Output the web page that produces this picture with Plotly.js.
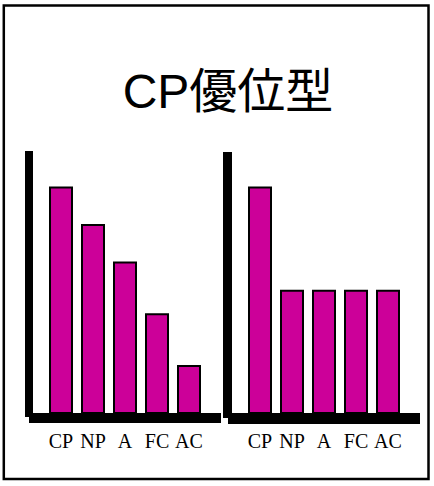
<!DOCTYPE html>
<html>
<head>
<meta charset="utf-8">
<script src="https://cdn.plot.ly/plotly-3.0.1.min.js"></script>
<style>
  html, body { margin: 0; padding: 0; background: #fff; }
  #plot { width: 434px; height: 486px; }
</style>
</head>
<body>
<div id="plot"></div>
<script>
var categories = ["CP", "NP", "A", "FC", "AC"];
var leftValues = [4.8, 4.0, 3.2, 2.1, 1.0];
var rightValues = [4.8, 2.6, 2.6, 2.6, 2.6];
var chartTitle = "CP優位型";

var W = 434, H = 486;
// pixel helpers for paper coords
function px(x) { return x / W; }
function py(y) { return 1 - y / H; }

var barColor = "#CC0099";

var trace1 = {
    x: categories,
    y: leftValues,
    type: "bar",
    xaxis: "x",
    yaxis: "y",
    marker: { color: barColor, line: { color: "#000", width: 2 } },
    hoverinfo: "none"
};
var trace2 = {
    x: categories,
    y: rightValues,
    type: "bar",
    xaxis: "x2",
    yaxis: "y2",
    marker: { color: barColor, line: { color: "#000", width: 2 } },
    hoverinfo: "none"
};

var yDomain = [py(413), py(151)];
var yRange = [0, 262 / 47];

function xAxis(domain, anchor) {
    return {
        domain: domain,
        anchor: anchor,
        type: "category",
        range: [-0.5, 4.5],
        showgrid: false,
        zeroline: false,
        showline: false,
        ticks: "",
        ticklabelstandoff: 14,
        fixedrange: true,
        tickfont: { family: "Liberation Serif", size: 20, color: "#000" }
    };
}
function yAxis(anchor) {
    return {
        domain: yDomain,
        anchor: anchor,
        range: yRange,
        showgrid: false,
        zeroline: false,
        showline: false,
        showticklabels: false,
        ticks: "",
        fixedrange: true
    };
}

function blackRect(x0, y0, x1, y1) {
    return {
        type: "rect", xref: "paper", yref: "paper",
        x0: px(x0), x1: px(x1), y0: py(y1), y1: py(y0),
        fillcolor: "#000", line: { width: 0 }
    };
}

var shapes = [
    // outer frame
    {
        type: "rect", xref: "paper", yref: "paper",
        x0: px(3.8), x1: px(428.5), y0: py(479), y1: py(5.5),
        line: { color: "#000", width: 2.5 }, fillcolor: "rgba(0,0,0,0)"
    },
    // left chart axes
    blackRect(25, 151, 33, 417),
    blackRect(29, 413, 221, 423),
    // right chart axes
    blackRect(223, 152, 232, 418),
    blackRect(228, 413, 420, 424)
];

var layout = {
    width: W,
    height: H,
    margin: { l: 0, r: 0, t: 0, b: 0 },
    paper_bgcolor: "#fff",
    plot_bgcolor: "rgba(0,0,0,0)",
    showlegend: false,
    bargap: 0.3125,
    title: {
        text: chartTitle,
        x: px(228), xanchor: "center",
        y: py(91), yanchor: "middle",
        font: { family: "Liberation Sans, Noto Sans CJK JP, sans-serif", size: 48, color: "#000" }
    },
    xaxis: xAxis([px(45), px(205)], "y"),
    yaxis: yAxis("x"),
    xaxis2: xAxis([px(244), px(404)], "y2"),
    yaxis2: yAxis("x2"),
    shapes: shapes
};

Plotly.newPlot("plot", [trace1, trace2], layout, { staticPlot: true, displayModeBar: false });
</script>
</body>
</html>
